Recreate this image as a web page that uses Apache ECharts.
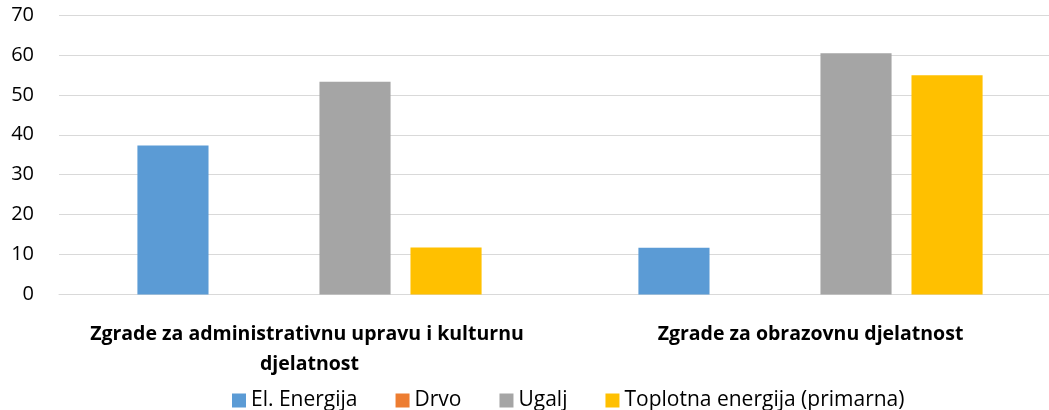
<!DOCTYPE html>
<html>
<head>
<meta charset="utf-8">
<script src="https://cdn.jsdelivr.net/npm/echarts@6/dist/echarts.min.js"></script>
<style>
html,body{margin:0;padding:0;background:#fff;overflow:hidden;width:1049px;height:410px;}
#chart{width:1061px;height:410px;}
</style>
</head>
<body>
<div id="chart"></div>
<script>
const categories = ['Zgrade za administrativnu upravu i kulturnu djelatnost', 'Zgrade za obrazovnu djelatnost'];
const seriesNames = ['El. Energija', 'Drvo', 'Ugalj', 'Toplotna energija (primarna)'];
const elEnergija = [37.3, 11.7];
const drvo = [0, 0];
const ugalj = [53.3, 60.4];
const toplotna = [11.8, 54.9];
const yTicks = [0, 10, 20, 30, 40, 50, 60, 70];

const colors = ['#5B9BD5', '#ED7D31', '#A5A5A5', '#FFC000'];
const values = [elEnergija, drvo, ugalj, toplotna];
const FONT = '"Open Sans"';

const chart = echarts.init(document.getElementById('chart'));
chart.setOption({
  animation: false,
  color: colors,
  grid: { left: 59, right: 0, top: 15, bottom: 115.5, containLabel: false },
  legend: {
    data: seriesNames,
    top: 390,
    left: 232,
    padding: 0,
    icon: 'rect',
    itemWidth: 14,
    itemHeight: 14,
    itemGap: 38,
    textStyle: { fontFamily: FONT, fontSize: 21, color: '#000' }
  },
  xAxis: {
    type: 'category',
    data: categories,
    axisLine: { lineStyle: { color: '#D9D9D9', width: 1 } },
    axisTick: { show: false },
    axisLabel: {
      interval: 0,
      margin: 25,
      width: 470,
      overflow: 'break',
      fontFamily: FONT,
      fontWeight: 'bold',
      fontSize: 19.5,
      lineHeight: 30,
      color: '#000'
    }
  },
  yAxis: {
    type: 'value',
    min: yTicks[0],
    max: yTicks[yTicks.length - 1],
    interval: 10,
    axisLine: { show: false },
    axisTick: { show: false },
    splitLine: { lineStyle: { color: '#D9D9D9', width: 1 } },
    axisLabel: { margin: 25, fontFamily: FONT, fontSize: 20, color: '#000' }
  },
  series: seriesNames.map((name, i) => ({
    name: name,
    type: 'bar',
    data: values[i],
    barGap: '28%',
    barCategoryGap: '31.3%',
    itemStyle: { color: colors[i] }
  }))
});
</script>
</body>
</html>
